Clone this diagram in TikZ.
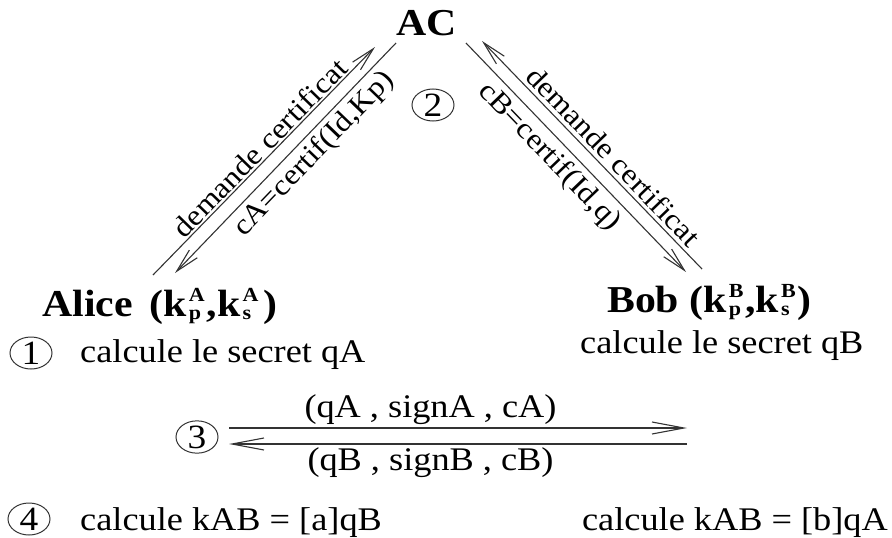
\documentclass[tikz,border=0pt]{standalone}
\usepackage{fontspec}
\setmainfont{Liberation Serif}[FakeStretch=1.1]
\usetikzlibrary{arrows.meta,shapes.geometric}
\newcommand{\kk}[2]{k\kern2pt{\fontsize{20}{20}\selectfont\ooalign{\raisebox{0.72em}{#2}\cr\raisebox{-0.15em}{#1}\cr}}\kern2pt}
\tikzset{
  txt/.style={inner sep=0pt, font=\fontsize{33}{38}\selectfont},
  bold/.style={inner sep=0pt, font=\fontsize{38}{44}\selectfont\bfseries},
  num/.style={draw=black!80, line width=1pt, ellipse, inner sep=0pt, minimum width=42pt, minimum height=32pt, font=\fontsize{34}{38}\selectfont},
  ln/.style={draw=black!80, line width=1.1pt},
  dtip/.style={-{Straight Barb[length=24pt,width=11pt]}},
  htip/.style={-{Straight Barb[length=32pt,width=12pt]}},
  lab/.style={sloped, inner sep=2pt, font=\fontsize{29}{34}\selectfont},
}
\begin{document}
\begin{tikzpicture}[x=1pt,y=-1pt]
\useasboundingbox (0,0) rectangle (892,538);
% main parties
\node[bold, anchor=base] (AC) at (427,35) {AC};
\node[bold, anchor=base west] (alice) at (42,316) {Alice\hspace{0.45em}(\kk{p}{A},\kk{s}{A}\kern3pt)};
\node[bold, anchor=base west] (bob) at (607,312) {Bob (\kk{p}{B} ,\kk{s}{B})};
% left connectors
\coordinate (la1) at (153,275);
\coordinate (la2) at (375,47);
\coordinate (lb1) at (175,273);
\coordinate (lb2) at (396,43);
\draw[ln, dtip] (la1) -- node[lab, above, pos=0.52, inner sep=1.5pt] {demande certificat} (la2);
\draw[ln, dtip] (lb2) -- (lb1);
\path (lb1) -- node[lab, below, pos=0.57, inner sep=5pt] {cA=certif(Id,Kp)} (lb2);
% right connectors
\coordinate (ra1) at (482,41);
\coordinate (ra2) at (702,269);
\coordinate (rb1) at (466,43);
\coordinate (rb2) at (686,272);
\draw[ln, dtip] (ra2) -- (ra1);
\path (ra1) -- node[lab, above, pos=0.55, inner sep=4pt] {demande certificat} (ra2);
\draw[ln, dtip] (rb1) -- node[lab, below, pos=0.44, inner sep=5pt] {cB=certif(Id,q)} (rb2);
% step numbers
\node[num] (c2) at (433,105) {2};
\node[num] (c1) at (31,353) {1};
\node[num] (c3) at (197,437) {3};
\node[num] (c4) at (29,519) {4};
% texts
\node[txt, anchor=base west] (secA) at (80,362) {calcule le secret qA};
\node[txt, anchor=base west] (secB) at (580,353) {calcule le secret qB};
\node[txt, anchor=base west] (kA) at (80,530) {calcule kAB = [a]qB};
\node[txt, anchor=base east] (kB) at (888,530) {calcule kAB = [b]qA};
% exchange
\coordinate (h1) at (229,428);
\coordinate (h2) at (687,428);
\coordinate (h3) at (229,444);
\coordinate (h4) at (687,444);
\draw[ln, htip] (h1) -- node[txt, above, pos=0.44, inner sep=3pt] {(qA , signA , cA)} (h2);
\draw[ln, htip] (h4) -- node[txt, below, pos=0.56, inner sep=3pt] {(qB , signB , cB)} (h3);
\end{tikzpicture}
\end{document}
